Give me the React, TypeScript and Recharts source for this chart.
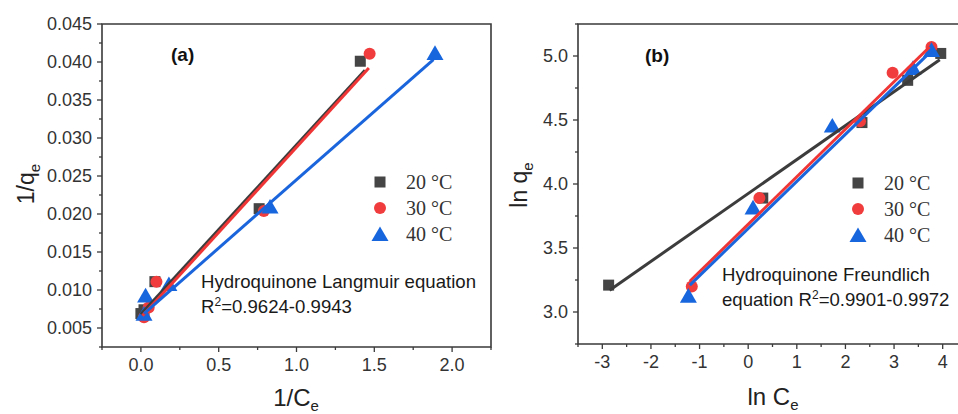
import React from 'react';
import { ComposedChart, Scatter, XAxis, YAxis, ReferenceArea } from 'recharts';

// ---------- Panel (a): Langmuir, 1/Ce vs 1/qe ----------
const langX20 = [0.0, 0.02, 0.09, 0.76, 1.41];
const langY20 = [0.0069, 0.0074, 0.0111, 0.0207, 0.0401];
const langX30 = [0.02, 0.05, 0.1, 0.79, 1.47];
const langY30 = [0.0064, 0.0077, 0.0111, 0.0204, 0.0411];
const langX40 = [0.02, 0.03, 0.18, 0.83, 1.89];
const langY40 = [0.0066, 0.009, 0.0105, 0.0207, 0.0409];
const langFitX20 = [0.0, 1.44];
const langFitY20 = [0.0068, 0.0389];
const langFitX30 = [0.01, 1.465];
const langFitY30 = [0.0066, 0.0392];
const langFitX40 = [0.02, 1.88];
const langFitY40 = [0.0069, 0.0403];
const langXMajor = [0, 0.5, 1.0, 1.5, 2.0];
const langYMajor = [0.005, 0.01, 0.015, 0.02, 0.025, 0.03, 0.035, 0.04, 0.045];
const langXDomain = [-0.25, 2.25];
const langYDomain = [0.0025, 0.045];

// ---------- Panel (b): Freundlich, ln Ce vs ln qe ----------
const freX20 = [-2.87, 0.3, 2.34, 3.28, 3.96];
const freY20 = [3.21, 3.89, 4.48, 4.81, 5.02];
const freX30 = [-1.16, 0.23, 2.3, 2.97, 3.77];
const freY30 = [3.2, 3.89, 4.49, 4.87, 5.07];
const freX40 = [-1.23, 0.1, 1.73, 3.39, 3.77];
const freY40 = [3.11, 3.8, 4.44, 4.89, 5.03];
const freFitX20 = [-2.85, 3.94];
const freFitY20 = [3.17, 4.97];
const freFitX30 = [-1.2, 3.73];
const freFitY30 = [3.24, 5.07];
const freFitX40 = [-1.2, 3.77];
const freFitY40 = [3.21, 5.04];
const freXMajor = [-3, -2, -1, 0, 1, 2, 3, 4];
const freYMajor = [3.0, 3.5, 4.0, 4.5, 5.0];
const freXDomain = [-3.5, 4.5];
const freYDomain = [2.75, 5.25];

const legendLabels = ['20 \u00B0C', '30 \u00B0C', '40 \u00B0C'];

const COL_BLACK = '#454545';
const COL_RED = '#f03c3c';
const COL_BLUE = '#1766de';
const LINE_BLACK = '#3c3c3c';
const LINE_RED = '#ef3535';
const LINE_BLUE = '#1a64dc';
const AXIS = '#3a3a3a';
const SANS = '"Liberation Sans", Arial, sans-serif';
const SERIF = '"Liberation Serif", "Times New Roman", serif';

const zip = (xs: number[], ys: number[]) => xs.map((x, i) => ({ x, y: ys[i] }));

const withMinors = (majors: number[], domain: number[]) => {
  const step = (majors[1] - majors[0]) / 2;
  const out: number[] = [];
  const start = Math.ceil((domain[0] - 1e-9) / step);
  const end = Math.floor((domain[1] + 1e-9) / step);
  for (let i = start; i <= end; i++) out.push(+(i * step).toFixed(6));
  return out;
};

const isMajor = (majors: number[], v: number) => majors.some((m) => Math.abs(m - v) < 1e-7);

const makeYTick = (majors: number[], digits: number) => (props: any) => {
  const { x, y, payload } = props;
  const v = payload.value;
  const maj = isMajor(majors, v);
  return (
    <g>
      <line x1={x} x2={x - (maj ? 5 : 3)} y1={y} y2={y} stroke={AXIS} strokeWidth={1.3} />
      {maj && (
        <text x={x - 10} y={y} textAnchor="end" dominantBaseline="central" fontFamily={SANS} fontSize={18} fill="#333">
          {v.toFixed(digits)}
        </text>
      )}
    </g>
  );
};

const makeXTick = (majors: number[], digits: number) => (props: any) => {
  const { x, y, payload } = props;
  const v = payload.value;
  const maj = isMajor(majors, v);
  return (
    <g>
      <line x1={x} x2={x} y1={y} y2={y + (maj ? 5 : 3)} stroke={AXIS} strokeWidth={1.3} />
      {maj && (
        <text x={x} y={y + 18} textAnchor="middle" dominantBaseline="central" fontFamily={SANS} fontSize={18} fill="#333">
          {v.toFixed(digits)}
        </text>
      )}
    </g>
  );
};

const SquareShape = (p: any) => <rect x={p.cx - 5.5} y={p.cy - 5.5} width={11} height={11} fill={COL_BLACK} />;
const CircleShape = (p: any) => <circle cx={p.cx} cy={p.cy} r={6} fill={COL_RED} />;
const TriangleShape = (p: any) => {
  const w = 17;
  const h = 14.7;
  const pts = `${p.cx},${p.cy - (2 * h) / 3} ${p.cx - w / 2},${p.cy + h / 3} ${p.cx + w / 2},${p.cy + h / 3}`;
  return <polygon points={pts} fill={COL_BLUE} />;
};
const NoShape = () => <g />;

const markerIcon = (i: number) => {
  if (i === 0) return <rect x={2.5} y={2.5} width={11} height={11} fill={COL_BLACK} />;
  if (i === 1) return <circle cx={8} cy={8} r={6} fill={COL_RED} />;
  return <polygon points="8,0.5 -0.5,15 16.5,15" fill={COL_BLUE} />;
};

const LegendBox = ({ left, top }: { left: number; top: number }) => (
  <div style={{ position: 'absolute', left, top }}>
    {legendLabels.map((lab, i) => (
      <div key={lab} style={{ display: 'flex', alignItems: 'center', height: 26 }}>
        <svg width={16} height={16} style={{ overflow: 'visible' }}>
          {markerIcon(i)}
        </svg>
        <span style={{ marginLeft: 18, fontFamily: SERIF, fontSize: 20, color: '#333', lineHeight: '26px', whiteSpace: 'nowrap' }}>{lab}</span>
      </div>
    ))}
  </div>
);

type PanelProps = {
  s20: { x: number; y: number }[];
  s30: { x: number; y: number }[];
  s40: { x: number; y: number }[];
  f20: { x: number; y: number }[];
  f30: { x: number; y: number }[];
  f40: { x: number; y: number }[];
  xDomain: number[];
  yDomain: number[];
  xMajor: number[];
  yMajor: number[];
  xDigits: number;
  yDigits: number;
  margin: { top: number; right: number; bottom: number; left: number };
};

const Panel = (p: PanelProps) => (
  <ComposedChart width={500} height={414} margin={p.margin}>
    <XAxis
      dataKey="x"
      type="number"
      domain={p.xDomain}
      ticks={withMinors(p.xMajor, p.xDomain)}
      interval={0}
      allowDataOverflow
      axisLine={false}
      tickLine={false}
      tickSize={0}
      tickMargin={0}
      height={50}
      tick={makeXTick(p.xMajor, p.xDigits)}
    />
    <YAxis
      dataKey="y"
      type="number"
      domain={p.yDomain}
      ticks={withMinors(p.yMajor, p.yDomain)}
      interval={0}
      allowDataOverflow
      axisLine={false}
      tickLine={false}
      tickSize={0}
      tickMargin={0}
      width={60}
      tick={makeYTick(p.yMajor, p.yDigits)}
    />
    <ReferenceArea
      x1={p.xDomain[0]}
      x2={p.xDomain[1]}
      y1={p.yDomain[0]}
      y2={p.yDomain[1]}
      fill="none"
      fillOpacity={0}
      stroke={AXIS}
      strokeWidth={1.6}
      ifOverflow="visible"
    />
    <Scatter name="20" data={p.s20} shape={SquareShape} isAnimationActive={false} />
    <Scatter name="30" data={p.s30} shape={CircleShape} isAnimationActive={false} />
    <Scatter name="40" data={p.s40} shape={TriangleShape} isAnimationActive={false} />
    <Scatter data={p.f20} shape={NoShape} line={{ stroke: LINE_BLACK, strokeWidth: 3 }} legendType="none" isAnimationActive={false} />
    <Scatter data={p.f30} shape={NoShape} line={{ stroke: LINE_RED, strokeWidth: 3 }} legendType="none" isAnimationActive={false} />
    <Scatter data={p.f40} shape={NoShape} line={{ stroke: LINE_BLUE, strokeWidth: 3 }} legendType="none" isAnimationActive={false} />
  </ComposedChart>
);

export default function App() {
  return (
    <div style={{ position: 'absolute', left: 0, top: 0, width: 958, height: 414, overflow: 'hidden', background: '#fff' }}>
      <div style={{ position: 'absolute', left: 0, top: 0 }}>
        <Panel
          s20={zip(langX20, langY20)}
          s30={zip(langX30, langY30)}
          s40={zip(langX40, langY40)}
          f20={zip(langFitX20, langFitY20)}
          f30={zip(langFitX30, langFitY30)}
          f40={zip(langFitX40, langFitY40)}
          xDomain={langXDomain}
          yDomain={langYDomain}
          xMajor={langXMajor}
          yMajor={langYMajor}
          xDigits={1}
          yDigits={3}
          margin={{ top: 24, right: 9, bottom: 17, left: 42 }}
        />
      </div>
      <div style={{ position: 'absolute', left: 480, top: 0 }}>
        <Panel
          s20={zip(freX20, freY20)}
          s30={zip(freX30, freY30)}
          s40={zip(freX40, freY40)}
          f20={zip(freFitX20, freFitY20)}
          f30={zip(freFitX30, freFitY30)}
          f40={zip(freFitX40, freFitY40)}
          xDomain={freXDomain}
          yDomain={freYDomain}
          xMajor={freXMajor}
          yMajor={freYMajor}
          xDigits={0}
          yDigits={1}
          margin={{ top: 24, right: 13, bottom: 20, left: 38 }}
        />
      </div>
      <LegendBox left={372} top={169} />
      <LegendBox left={850} top={170} />
      <svg
        width={958}
        height={414}
        style={{ position: 'absolute', left: 0, top: 0, pointerEvents: 'none' }}
        fontFamily={SANS}
      >
        <text transform="rotate(-90, 34, 184)" x={34} y={184} textAnchor="middle" fontSize={23} fill="#222">
          1/q<tspan dy={6} fontSize={15}>e</tspan>
        </text>
        <text x={296} y={406} textAnchor="middle" fontSize={24} fill="#222">
          1/C<tspan dy={5} fontSize={15}>e</tspan>
        </text>
        <text transform="rotate(-90, 527, 185)" x={527} y={185} textAnchor="middle" fontSize={23} fill="#222">
          ln q<tspan dy={6} fontSize={15}>e</tspan>
        </text>
        <text x={773} y={405} textAnchor="middle" fontSize={24} fill="#222">
          ln C<tspan dy={5} fontSize={15}>e</tspan>
        </text>
        <text x={171} y={54} dominantBaseline="central" fontSize={19} fontWeight="bold" fill="#111">(a)</text>
        <text x={645} y={55} dominantBaseline="central" fontSize={19} fontWeight="bold" fill="#111">(b)</text>
        <text x={201} y={288} fontSize={18.6} fill="#1a1a1a">Hydroquinone Langmuir equation</text>
        <text x={201} y={313} fontSize={18.6} fill="#1a1a1a">
          R<tspan dy={-7} fontSize={12}>2</tspan>
          <tspan dy={7}>=0.9624-0.9943</tspan>
        </text>
        <text x={722} y={281} fontSize={18.6} fill="#1a1a1a">Hydroquinone Freundlich</text>
        <text x={722} y={306} fontSize={18.6} fill="#1a1a1a">
          equation R<tspan dy={-7} fontSize={12}>2</tspan>
          <tspan dy={7}>=0.9901-0.9972</tspan>
        </text>
      </svg>
    </div>
  );
}
